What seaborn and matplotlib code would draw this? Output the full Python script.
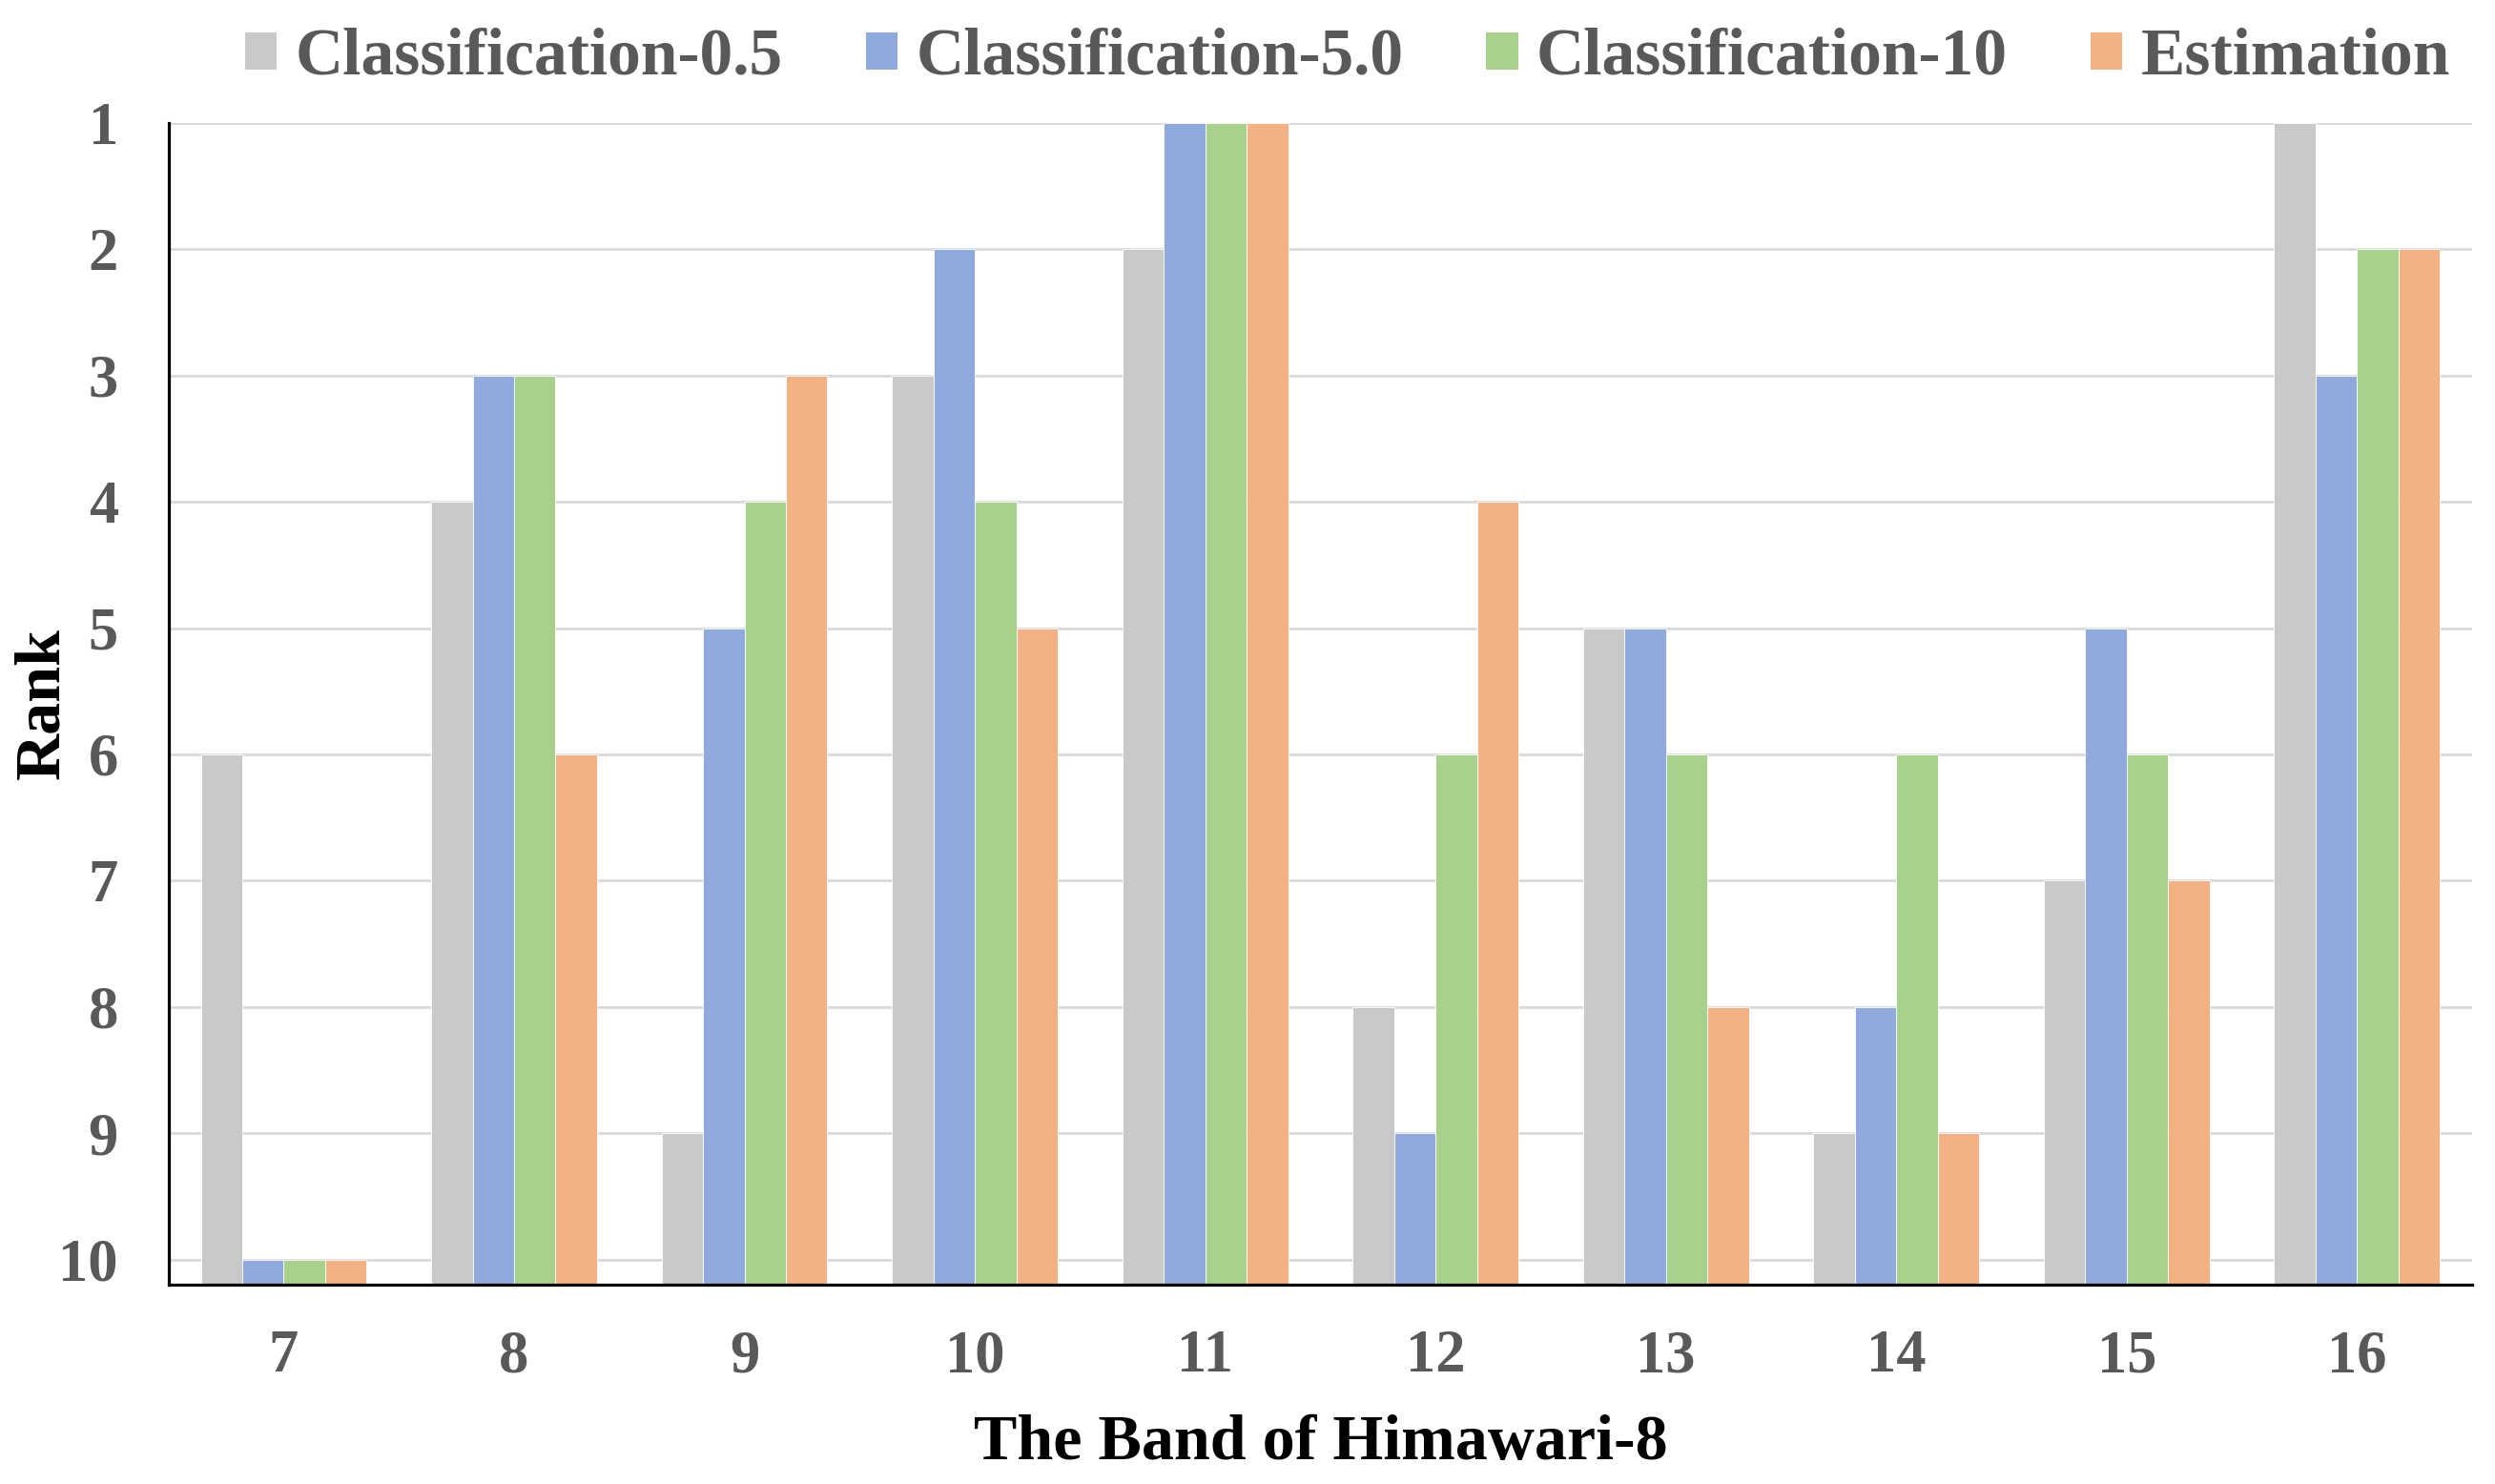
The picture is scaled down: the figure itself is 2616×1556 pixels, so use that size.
import matplotlib
matplotlib.use("Agg")
import matplotlib.pyplot as plt
from matplotlib.patches import Patch
import seaborn as sns
import pandas as pd

bands = [7, 8, 9, 10, 11, 12, 13, 14, 15, 16]
series_names = ["Classification-0.5", "Classification-5.0", "Classification-10", "Estimation"]
cls_05 = [6, 4, 9, 3, 2, 8, 5, 9, 7, 1]
cls_50 = [10, 3, 5, 2, 1, 9, 5, 8, 5, 3]
cls_10 = [10, 3, 4, 4, 1, 6, 6, 6, 6, 2]
estimation = [10, 6, 3, 5, 1, 4, 8, 9, 7, 2]
rank_ticks = [1, 2, 3, 4, 5, 6, 7, 8, 9, 10]
colors = ["#C9C9C9", "#8FAADC", "#A9D18E", "#F4B183"]

BASE = 10.2  # bottom of the reversed rank axis

rows = []
for name, vals in zip(series_names, [cls_05, cls_50, cls_10, estimation]):
    for b, v in zip(bands, vals):
        rows.append({"band": str(b), "series": name, "rank": v})
df = pd.DataFrame(rows)
df["height"] = BASE - df["rank"]

sns.set_theme(style="white")
plt.rcParams["font.family"] = ["Liberation Serif", "DejaVu Serif"]
plt.rcParams["font.weight"] = "bold"

fig = plt.figure(figsize=(26.16, 15.56), dpi=100)
ax = fig.add_axes([176.7 / 2616, 1 - 1347 / 1556, (2592 - 176.7) / 2616, (1347 - 129) / 1556])

sns.barplot(data=df, x="band", y="height", hue="series", hue_order=series_names,
            palette=colors, width=0.72, gap=0, saturation=1, ax=ax,
            edgecolor="#FFFFFF", linewidth=0.6, legend=False)

ax.set_xlim(-0.5, len(bands) - 0.5)
ax.set_ylim(0, BASE - 1)
ax.set_yticks([BASE - r for r in rank_ticks])
ax.set_yticklabels([str(r) for r in rank_ticks])
ax.yaxis.grid(True, color="#D9D9D9", linewidth=2.0, zorder=0)
ax.set_axisbelow(True)

for s in ["top", "right"]:
    ax.spines[s].set_visible(False)
for s in ["left", "bottom"]:
    ax.spines[s].set_color("black")
    ax.spines[s].set_linewidth(2.3)

ax.tick_params(axis="both", length=0, labelsize=45, labelcolor="#595959")
ax.tick_params(axis="y", pad=38)
ax.tick_params(axis="x", pad=34)
for lab in ax.get_xticklabels() + ax.get_yticklabels():
    lab.set_fontweight("bold")

ax.set_xlabel("The Band of Himawari-8", fontsize=49, fontweight="bold", color="black", labelpad=22)
ax.set_ylabel("Rank", fontsize=49, fontweight="bold", color="black")
ax.yaxis.set_label_coords(-0.042, 0.5)

handles = [Patch(facecolor=c, edgecolor="none") for c in colors]
leg = fig.legend(handles, series_names, loc="center", bbox_to_anchor=(1413 / 2616, 1 - 61 / 1556),
                 ncol=4, frameon=False, fontsize=50, handlelength=0.48, handleheight=0.48,
                 handletextpad=0.28, columnspacing=1.25)
for t in leg.get_texts():
    t.set_color("#595959")
    t.set_fontweight("bold")

fig.savefig("out.png", dpi=100)
